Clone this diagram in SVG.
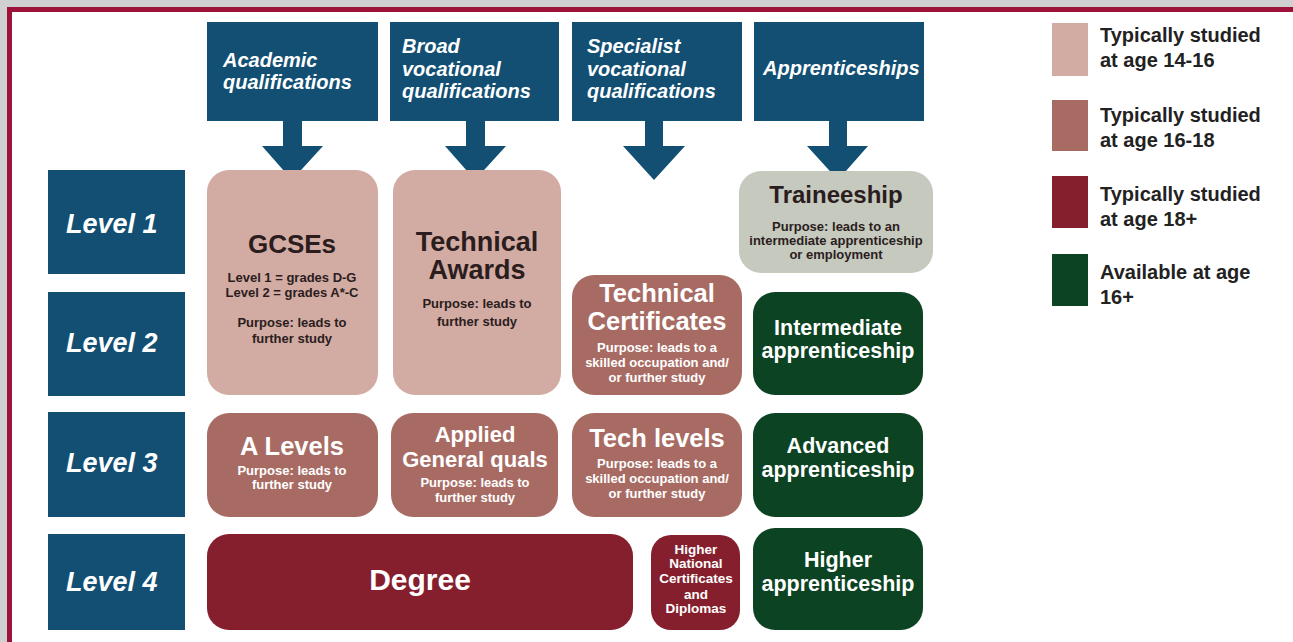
<svg xmlns="http://www.w3.org/2000/svg" width="1293" height="642" viewBox="0 0 1293 642">
<style>
text{font-family:"Liberation Sans",Arial,sans-serif;font-weight:bold}
.hd{fill:#124f73}
.hdt{fill:#fff;font-style:italic;font-size:20px}
.lvt{fill:#fff;font-style:italic;font-size:27px}
.p1{fill:#d2aba3}
.p2{fill:#a86b63}
.p3{fill:#861f2d}
.gr{fill:#0c4323}
.tr{fill:#c5c9be}
.dk{fill:#2b1d1d;text-anchor:middle}
.wt{fill:#fff;text-anchor:middle}
.s13{font-size:13px}
.leg{fill:#222;font-size:20px}
.arr{fill:#124f73}
</style>
<rect width="1293" height="642" fill="#d0d0d0"/>
<rect x="7" y="7" width="1300" height="650" fill="#fff" stroke="none"/>
<path d="M9.5 642 V9.5 H1293" fill="none" stroke="#9d1238" stroke-width="5"/>

<g id="connectors">
<polygon class="arr" points="283,121 302,121 302,146 323,146 292,180 262,146 283,146"/>
<polygon class="arr" points="466,121 485,121 485,146 506,146 475,180 445,146 466,146"/>
<polygon class="arr" points="645,121 663,121 663,146 685,146 654,180 623,146 645,146"/>
<polygon class="arr" points="829,121 847,121 847,146 868,146 838,180 807,146 829,146"/>
</g>

<g id="hdr-academic"><rect class="hd" x="207" y="22" width="171" height="99"/>
<text class="hdt" x="223" y="67">Academic</text><text class="hdt" x="223" y="89">qualifications</text></g>
<g id="hdr-broad"><rect class="hd" x="390" y="22" width="169" height="99"/>
<text class="hdt" x="402" y="53">Broad</text><text class="hdt" x="402" y="76">vocational</text><text class="hdt" x="402" y="98">qualifications</text></g>
<g id="hdr-specialist"><rect class="hd" x="572" y="22" width="170" height="99"/>
<text class="hdt" x="587" y="53">Specialist</text><text class="hdt" x="587" y="76">vocational</text><text class="hdt" x="587" y="98">qualifications</text></g>
<g id="hdr-apprenticeships"><rect class="hd" x="754" y="22" width="170" height="99"/>
<text class="hdt" x="763" y="75">Apprenticeships</text></g>

<g id="level1"><rect class="hd" x="48" y="170" width="137" height="104"/><text class="lvt" x="66" y="233">Level 1</text></g>
<g id="level2"><rect class="hd" x="48" y="292" width="137" height="104"/><text class="lvt" x="66" y="352">Level 2</text></g>
<g id="level3"><rect class="hd" x="48" y="412" width="137" height="105"/><text class="lvt" x="66" y="472">Level 3</text></g>
<g id="level4"><rect class="hd" x="48" y="534" width="137" height="96"/><text class="lvt" x="66" y="591">Level 4</text></g>

<g id="gcses"><rect class="p1" x="207" y="170" width="171" height="225" rx="22"/>
<text class="dk" x="292" y="253" font-size="26">GCSEs</text>
<text class="dk s13" x="292" y="282">Level 1 = grades D-G</text>
<text class="dk s13" x="292" y="297">Level 2 = grades A*-C</text>
<text class="dk s13" x="292" y="327">Purpose: leads to</text>
<text class="dk s13" x="292" y="343">further study</text></g>

<g id="technical-awards"><rect class="p1" x="393" y="170" width="168" height="225" rx="22"/>
<text class="dk" x="477" y="251" font-size="27">Technical</text>
<text class="dk" x="477" y="279" font-size="27">Awards</text>
<text class="dk s13" x="477" y="308">Purpose: leads to</text>
<text class="dk s13" x="477" y="326">further study</text></g>

<g id="traineeship"><rect class="tr" x="739" y="171" width="194" height="102" rx="22"/>
<text class="dk" x="836" y="203" font-size="24">Traineeship</text>
<text class="dk s13" x="836" y="231">Purpose: leads to an</text>
<text class="dk s13" x="836" y="245">intermediate apprenticeship</text>
<text class="dk s13" x="836" y="259">or employment</text></g>

<g id="technical-certificates"><rect class="p2" x="572" y="275" width="170" height="120" rx="22"/>
<text class="wt" x="657" y="302" font-size="25.5">Technical</text>
<text class="wt" x="657" y="330" font-size="25.5">Certificates</text>
<text class="wt s13" x="657" y="352">Purpose: leads to a</text>
<text class="wt s13" x="657" y="367">skilled occupation and/</text>
<text class="wt s13" x="657" y="382">or further study</text></g>

<g id="intermediate"><rect class="gr" x="753" y="292" width="170" height="103" rx="22"/>
<text class="wt" x="838" y="335" font-size="21.5">Intermediate</text>
<text class="wt" x="838" y="358" font-size="21.5">apprenticeship</text></g>

<g id="a-levels"><rect class="p2" x="207" y="413" width="171" height="104" rx="22"/>
<text class="wt" x="292" y="455" font-size="25.5">A Levels</text>
<text class="wt s13" x="292" y="475">Purpose: leads to</text>
<text class="wt s13" x="292" y="489">further study</text></g>

<g id="applied-general"><rect class="p2" x="391" y="413" width="167" height="104" rx="22"/>
<text class="wt" x="475" y="442" font-size="22">Applied</text>
<text class="wt" x="475" y="467" font-size="22">General quals</text>
<text class="wt s13" x="475" y="487">Purpose: leads to</text>
<text class="wt s13" x="475" y="502">further study</text></g>

<g id="tech-levels"><rect class="p2" x="572" y="413" width="170" height="104" rx="22"/>
<text class="wt" x="657" y="447" font-size="25.5">Tech levels</text>
<text class="wt s13" x="657" y="468">Purpose: leads to a</text>
<text class="wt s13" x="657" y="483">skilled occupation and/</text>
<text class="wt s13" x="657" y="498">or further study</text></g>

<g id="advanced"><rect class="gr" x="753" y="413" width="170" height="104" rx="22"/>
<text class="wt" x="838" y="453" font-size="21.5">Advanced</text>
<text class="wt" x="838" y="477" font-size="21.5">apprenticeship</text></g>

<g id="degree"><rect class="p3" x="207" y="534" width="426" height="96" rx="22"/>
<text class="wt" x="420" y="590" font-size="30">Degree</text></g>

<g id="hnc"><rect class="p3" x="651" y="535" width="89" height="95" rx="20"/>
<text class="wt" x="696" y="554" font-size="13.5">Higher</text>
<text class="wt" x="696" y="568" font-size="13.5">National</text>
<text class="wt" x="696" y="583" font-size="13.5">Certificates</text>
<text class="wt" x="696" y="599" font-size="13.5">and</text>
<text class="wt" x="696" y="613" font-size="13.5">Diplomas</text></g>

<g id="higher"><rect class="gr" x="753" y="528" width="170" height="102" rx="22"/>
<text class="wt" x="838" y="567" font-size="21.5">Higher</text>
<text class="wt" x="838" y="591" font-size="21.5">apprenticeship</text></g>

<g id="legend">
<rect class="p1" x="1052" y="23" width="36" height="53"/>
<text class="leg" x="1100" y="42">Typically studied</text><text class="leg" x="1100" y="67">at age 14-16</text>
<rect class="p2" x="1052" y="100" width="36" height="51"/>
<text class="leg" x="1100" y="122">Typically studied</text><text class="leg" x="1100" y="147">at age 16-18</text>
<rect class="p3" x="1052" y="176" width="36" height="52"/>
<text class="leg" x="1100" y="201">Typically studied</text><text class="leg" x="1100" y="226">at age 18+</text>
<rect class="gr" x="1052" y="254" width="36" height="52"/>
<text class="leg" x="1100" y="279">Available at age</text><text class="leg" x="1100" y="304">16+</text>
</g>
</svg>
